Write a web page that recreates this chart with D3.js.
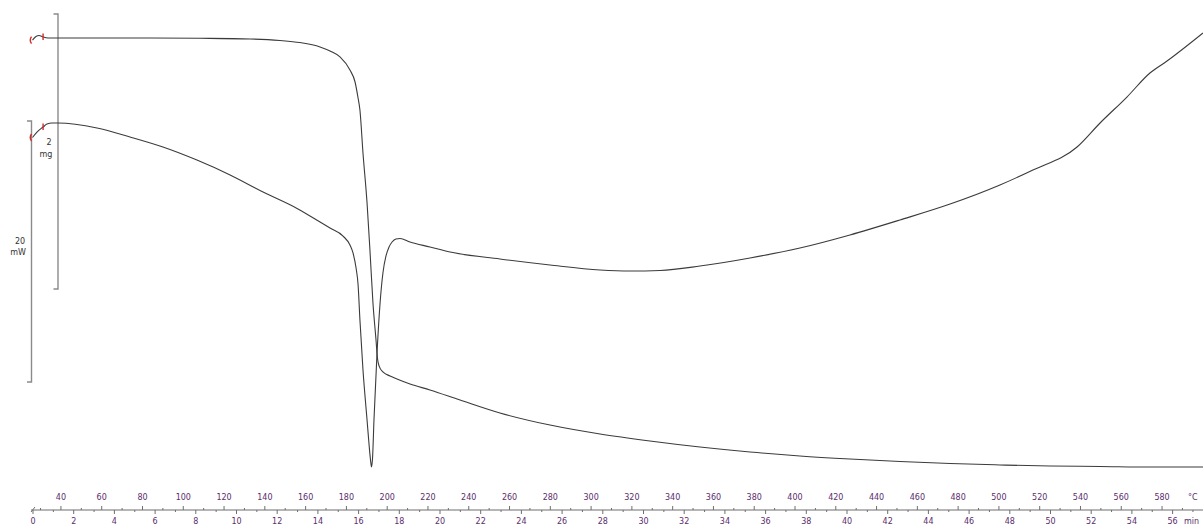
<!DOCTYPE html>
<html>
<head>
<meta charset="utf-8">
<script src="https://cdn.jsdelivr.net/npm/d3@7"></script>
<style>
  body { margin: 0; background: #ffffff; }
  svg { display: block; }
</style>
</head>
<body>
<svg id="chart" width="1203" height="526"></svg>
<script>
// TG curve: time (min) and mass change (mg) relative to the start
const tgTime = [0, 0.17, 0.32, 0.52, 0.76, 3.32, 5.77, 8.23, 10.69, 12.16,
  13.14, 14.13, 14.62, 15.11, 15.60, 15.85, 15.99, 16.09, 16.24, 16.44,
  16.59, 16.73, 16.88, 16.95, 17.03, 17.22, 17.57, 17.91, 18.55, 19.53,
  21.01, 22.97, 25.43, 27.89, 30.34, 32.80, 35.26, 37.71, 40.17, 42.63,
  45.09, 47.54, 50.00, 52.46, 54.91, 57.52];
const tgMass = [-0.015, 0.011, 0.018, 0.007, 0, 0, 0, -0.002, -0.007, -0.018,
  -0.033, -0.065, -0.095, -0.138, -0.233, -0.320, -0.429, -0.524, -0.836, -1.200,
  -1.564, -1.927, -2.196, -2.327, -2.385, -2.429, -2.458, -2.480, -2.516, -2.560,
  -2.633, -2.727, -2.815, -2.880, -2.931, -2.975, -3.011, -3.040, -3.062, -3.080,
  -3.095, -3.105, -3.113, -3.116, -3.120, -3.120];

// DSC curve: time (min) and heat flow (mW) relative to the start
const dscTime = [0, 0.22, 0.52, 0.71, 0.96, 1.25, 3.17, 4.79, 6.41, 8.08,
  9.71, 11.33, 13.00, 14.13, 14.62, 15.26, 15.60, 15.75, 15.90, 16.00,
  16.09, 16.24, 16.44, 16.54, 16.61, 16.66, 16.71, 16.78, 16.93, 17.08,
  17.22, 17.37, 17.52, 17.67, 17.86, 18.06, 18.55, 19.53, 20.52, 22.97,
  25.43, 27.89, 29.36, 30.84, 32.80, 35.26, 37.71, 40.17, 42.63, 45.09,
  47.54, 49.16, 51.33, 52.46, 53.78, 54.91, 55.75, 57.52];
const dscHeat = [-1.11, -0.69, -0.31, -0.08, 0, 0, -0.38, -1.07, -1.84, -2.84,
  -3.98, -5.29, -6.55, -7.59, -8.05, -8.66, -9.35, -9.96, -11.11, -12.41,
  -15.10, -18.93, -22.76, -24.67, -25.82, -26.36, -25.67, -22.76, -17.62, -13.79,
  -11.49, -10.19, -9.50, -9.12, -8.89, -8.85, -9.12, -9.50, -9.89, -10.42,
  -10.88, -11.26, -11.34, -11.30, -10.96, -10.34, -9.58, -8.58, -7.43, -6.21,
  -4.75, -3.60, -1.84, 0, 1.99, 3.83, 4.75, 6.90];

// Axis tick labels
const timeTicks = [0, 2, 4, 6, 8, 10, 12, 14, 16, 18, 20, 22, 24, 26, 28, 30,
  32, 34, 36, 38, 40, 42, 44, 46, 48, 50, 52, 54, 56];
const tempTicks = [40, 60, 80, 100, 120, 140, 160, 180, 200, 220, 240, 260, 280,
  300, 320, 340, 360, 380, 400, 420, 440, 460, 480, 500, 520, 540, 560, 580];

// Temperature program
const startTemp = 26.3;   // °C
const heatingRate = 9.98; // K/min

const svg = d3.select("#chart");
const axisY = 510;
const purple = "#5b2d6c";
const grey = "#6e6e6e";
const curveColor = "#3b3b3b";
const red = "#d42a2a";

const x = d3.scaleLinear().domain([0, 56]).range([32.5, 32.5 + 56 * 20.35]);
const xTemp = d3.scaleLinear()
  .domain([startTemp, startTemp + heatingRate * 56])
  .range(x.range());
const yTG = d3.scaleLinear().domain([0, -1]).range([38, 38 + 137.5]);
const yDSC = d3.scaleLinear().domain([0, -1]).range([123, 123 + 13.05]);

// --- scale bars on the left ---
const bars = svg.append("g").attr("stroke", "#8a8a8a").attr("stroke-width", 1.4).attr("fill", "none");
function scaleBar(xPos, yTop, yBot) {
  bars.append("path").attr("d", `M${xPos - 4.5},${yTop}H${xPos}V${yBot}H${xPos - 4.5}`);
}
const mgTop = 0.175;
scaleBar(58, yTG(mgTop), yTG(mgTop - 2));
const mwTop = 0.15;
scaleBar(31.5, yDSC(mwTop), yDSC(mwTop - 20));

const unitText = svg.append("g")
  .attr("font-family", "DejaVu Sans, Verdana, sans-serif")
  .attr("font-size", 8)
  .attr("fill", "#333")
  .attr("text-anchor", "middle");
unitText.append("text").attr("x", 49).attr("y", 145).text("2");
unitText.append("text").attr("x", 46).attr("y", 157).text("mg");
unitText.append("text").attr("x", 20).attr("y", 244).text("20");
unitText.append("text").attr("x", 18).attr("y", 255).text("mW");

// --- curves ---
const line = (yScale) => d3.line()
  .x(d => x(d[0]))
  .y(d => yScale(d[1]))
  .curve(d3.curveMonotoneX);

const tgData = tgTime.map((t, i) => [t, tgMass[i]]);
const dscData = dscTime.map((t, i) => [t, dscHeat[i]]);

svg.append("path").datum(tgData)
  .attr("fill", "none").attr("stroke", curveColor).attr("stroke-width", 1.1)
  .attr("d", line(yTG));
svg.append("path").datum(dscData)
  .attr("fill", "none").attr("stroke", curveColor).attr("stroke-width", 1.1)
  .attr("d", line(yDSC));

// --- red evaluation limit markers at the start of each curve ---
const marks = svg.append("g").attr("stroke", red).attr("stroke-width", 1.4).attr("fill", "none");
function limitMarks(data, yScale, idx) {
  const sx = x(data[0][0]), sy = yScale(data[0][1]);
  marks.append("path").attr("d", `M${sx - 1},${sy - 3.5}Q${sx - 3.5},${sy} ${sx - 1},${sy + 3.5}`);
  const ex = x(data[idx][0]), ey = yScale(data[idx][1]);
  marks.append("path").attr("d", `M${ex},${ey - 3.5}V${ey + 3}`);
}
limitMarks(tgData, yTG, 3);
limitMarks(dscData, yDSC, 2);

// --- combined temperature / time axis ---
const axisG = svg.append("g").attr("transform", `translate(0,${axisY})`);
axisG.append("line")
  .attr("x1", 31).attr("x2", 1203).attr("y1", 0).attr("y2", 0)
  .attr("stroke", grey).attr("stroke-width", 1.2);
axisG.append("line")
  .attr("x1", 31).attr("y1", 2).attr("x2", 35).attr("y2", -3)
  .attr("stroke", grey).attr("stroke-width", 1);

function styleAxis(g) {
  g.select(".domain").remove();
  g.selectAll(".tick line").attr("stroke", grey).attr("stroke-width", 1);
  g.selectAll(".tick text")
    .attr("fill", purple)
    .attr("font-family", "DejaVu Sans, Verdana, sans-serif")
    .attr("font-size", 8);
}

// temperature ticks above the line
const tempMinor = d3.range(30, 601, 10).filter(v => v % 20 !== 0);
axisG.append("g")
  .call(d3.axisTop(xTemp).tickValues(tempMinor).tickSize(2).tickFormat(""))
  .call(styleAxis);
axisG.append("g")
  .call(d3.axisTop(xTemp).tickValues(tempTicks).tickSize(4).tickPadding(6).tickFormat(d3.format("d")))
  .call(styleAxis);

// time ticks below the line
const timeMinor = d3.range(1, 58, 2);
axisG.append("g")
  .call(d3.axisBottom(x).tickValues(timeMinor).tickSize(2).tickFormat(""))
  .call(styleAxis);
axisG.append("g")
  .call(d3.axisBottom(x).tickValues(timeTicks).tickSize(4).tickPadding(4).tickFormat(d3.format("d")))
  .call(styleAxis);

const unitStyle = (t) => t.attr("fill", purple)
  .attr("font-family", "DejaVu Sans, Verdana, sans-serif").attr("font-size", 8);
axisG.append("text").attr("x", 1188).attr("y", -10).text("°C").call(unitStyle);
axisG.append("text").attr("x", 1184).attr("y", 14).text("min").call(unitStyle);
</script>
</body>
</html>
